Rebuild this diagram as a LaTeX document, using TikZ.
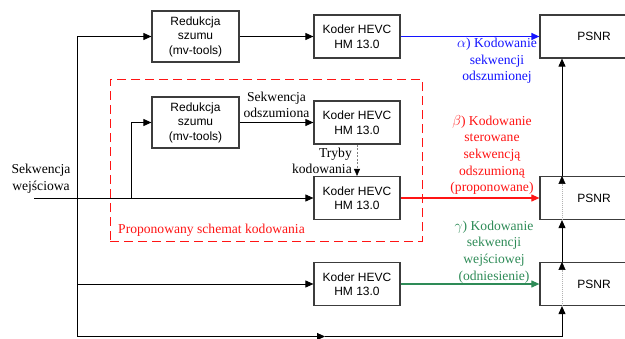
\documentclass[tikz,border=0pt]{standalone}
\usepackage{fontspec}
\setmainfont{Liberation Serif}
\setsansfont{Liberation Sans}
\usetikzlibrary{arrows.meta,positioning,calc}

\definecolor{alphaBlue}{RGB}{20,20,255}
\definecolor{betaRed}{RGB}{255,20,20}
\definecolor{gammaGreen}{RGB}{46,139,87}
\definecolor{boxGray}{RGB}{60,60,60}

\begin{document}
\begin{tikzpicture}[x=1pt, y=-1pt,
		>={Triangle[length=8pt,width=7pt]},
		procBox/.style={
				draw=boxGray, line width=1.2pt, fill=white,
				inner sep=0pt, align=center,
				font=\sffamily\fontsize{12}{14.5}\selectfont
			},
		denoiseBox/.style={procBox, minimum width=87pt, minimum height=51pt},
		coderBox/.style={procBox, minimum width=86pt, minimum height=43pt},
		psnrBox/.style={procBox, minimum width=108pt, minimum height=43pt},
		flow/.style={->, line width=0.9pt},
		innerLine/.style={->, gray!60, line width=0.5pt, dash pattern=on 1pt off 1pt,
				>={Triangle[length=8pt,width=7pt,black]}},
		modeArrow/.style={->, gray, line width=0.6pt, dash pattern=on 2pt off 1.5pt,
				>={Triangle[length=7pt,width=6pt,black]}},
		lblText/.style={font=\rmfamily\fontsize{13.6}{16.6}\selectfont, align=center, inner sep=0pt},
		schemeFrame/.style={draw=betaRed, line width=1pt, dash pattern=on 9pt off 5pt,
				minimum width=312pt, minimum height=162pt, inner sep=0pt}
	]
	\useasboundingbox (0,0) rectangle (625,338);

	% Proposed scheme frame
	\node[schemeFrame] (scheme) at (266,160) {};
	\node[lblText, text=betaRed, anchor=west] (schemeLbl) at (118,230) {Proponowany schemat kodowania};

	% Upper branch (alpha)
	\node[denoiseBox] (R1) at (195.5,36.5) {Redukcja\\szumu\\(mv-tools)};
	\node[coderBox] (K1) at (357,36.5) {Koder HEVC\\HM 13.0};
	\node[psnrBox] (P1) at (594,36.5) {PSNR};

	% Proposed branch (beta)
	\node[denoiseBox] (R2) at (195.5,122.5) {Redukcja\\szumu\\(mv-tools)};
	\node[coderBox] (K2) at (357,122.5) {Koder HEVC\\HM 13.0};
	\node[coderBox] (K3) at (357,198) {Koder HEVC\\HM 13.0};
	\node[psnrBox] (P2) at (594,198) {PSNR};

	% Reference branch (gamma)
	\node[coderBox] (K4) at (357,284) {Koder HEVC\\HM 13.0};
	\node[psnrBox] (P3) at (594,284) {PSNR};

	% Input and junctions
	\node[lblText] (inLbl) at (41,179) {Sekwencja\\wejściowa};
	\coordinate (in) at (34,198);
	\coordinate (branch) at (131,198);
	\coordinate (bottom) at (77,336.5);
	\coordinate (bottomMid) at (325,336.5);
	\coordinate (psnrCol) at (562,0);

	\draw[flow] (in) -- (K3.west);
	\draw[flow] (bottom) |- (R1.west);
	\draw[flow] (bottom |- K4.west) -- (K4.west);
	\draw[flow] (branch) |- (R2.west);
	\draw[flow] (bottom) -- (bottomMid);
	\draw[flow] (bottomMid) -| (psnrCol |- P3.south);

	\draw[flow] (R1) -- (K1);
	\draw[flow] (R2) -- node[lblText, above=4pt] (denLbl) {Sekwencja\\odszumiona} (K2);
	\draw[modeArrow] (K2) -- (K3);
	\node[lblText, align=right, anchor=east] (modeLbl) at (352,161) {Tryby\\kodowania};

	% Coloured outputs
	\draw[flow, alphaBlue, line width=1.2pt] (K1) -- (P1);
	\draw[flow, betaRed, line width=1.1pt] (K3) -- (P2);
	\draw[flow, gammaGreen, line width=1.1pt] (K4) -- (P3);
	\node[lblText, text=alphaBlue] (alphaLbl) at (497,61) {$\alpha$) Kodowanie\\sekwencji\\odszumionej};
	\node[lblText, text=betaRed] (betaLbl) at (492,155) {$\beta$) Kodowanie\\sterowane\\sekwencją\\odszumioną\\(proponowane)};
	\node[lblText, text=gammaGreen] (gammaLbl) at (494,252) {$\gamma$) Kodowanie\\sekwencji\\wejściowej\\(odniesienie)};

	% PSNR chain
	\draw[innerLine] (psnrCol |- P3.south) -- (psnrCol |- P3.north);
	\draw[flow] (psnrCol |- P3.north) -- (psnrCol |- P2.south);
	\draw[innerLine] (psnrCol |- P2.south) -- (psnrCol |- P2.north);
	\draw[flow] (psnrCol |- P2.north) -- (psnrCol |- P1.south);
\end{tikzpicture}
\end{document}
